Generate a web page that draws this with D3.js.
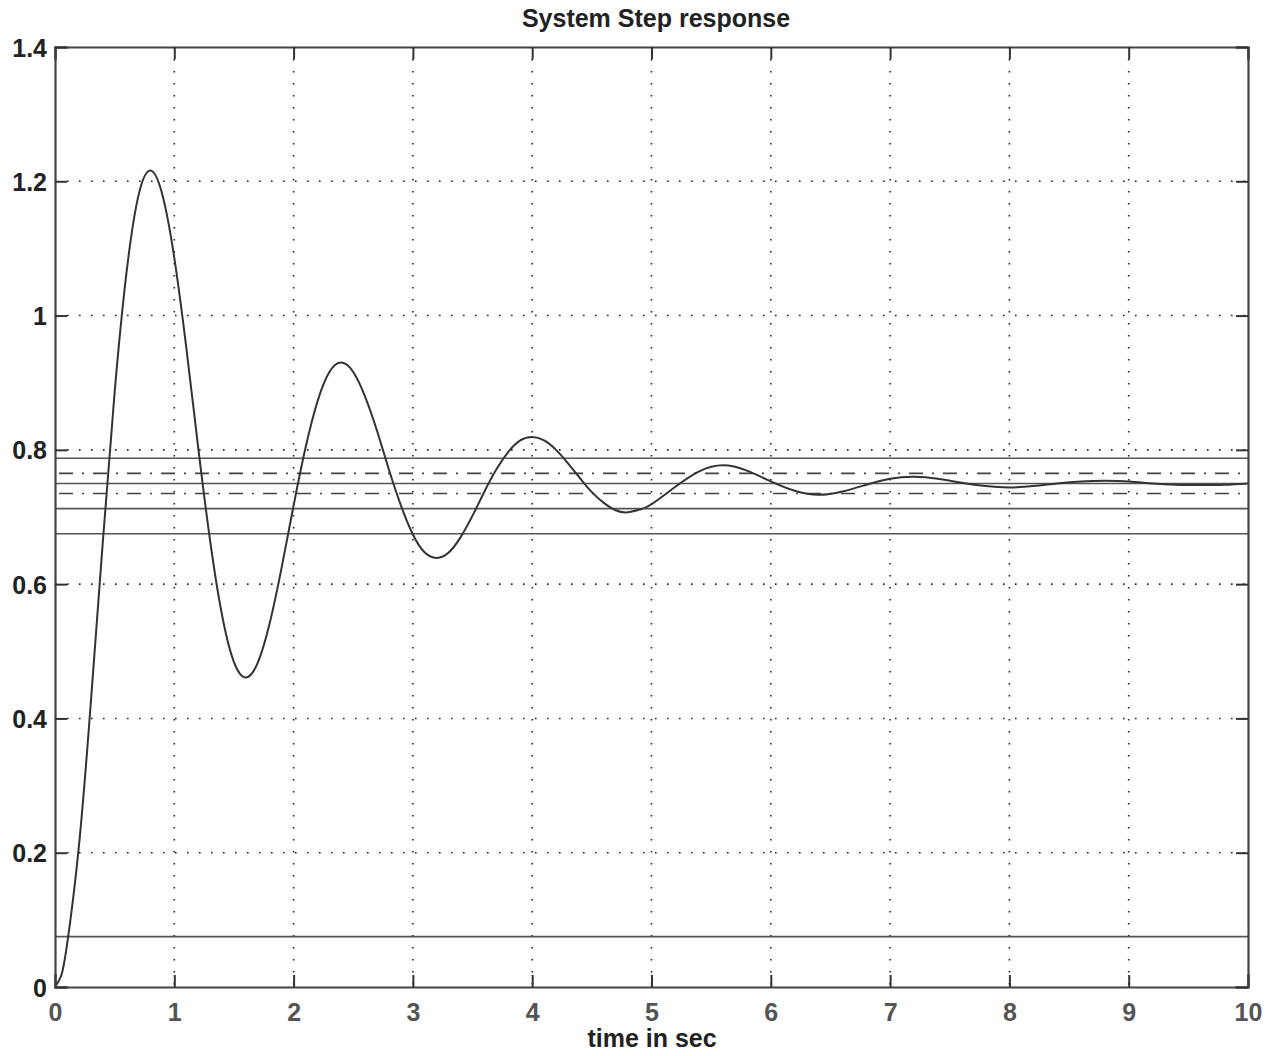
<!DOCTYPE html>
<html><head><meta charset="utf-8">
<script src="https://cdn.jsdelivr.net/npm/d3@7"></script>
<style>
html,body{margin:0;padding:0;background:#fff;}
svg{display:block;}
text{font-family:"Liberation Sans",Arial,Helvetica,sans-serif;}
</style></head>
<body>
<svg id="chart" width="1268" height="1056"></svg>
<script>
// ---- data ----
const title = "System Step response";
const xLabel = "time in sec";
const xTicks = [0,1,2,3,4,5,6,7,8,9,10];
const yTicks = [0,0.2,0.4,0.6,0.8,1,1.2,1.4];
const yTickLabels = ["0","0.2","0.4","0.6","0.8","1","1.2","1.4"];
const time = [0,0.05,0.1,0.2,0.3,0.4,0.5,0.6,0.7,0.8,0.9,1.0,1.1,1.2,1.3,1.4,1.5,1.6,1.7,1.8,1.9,
  2.0,2.1,2.2,2.3,2.4,2.5,2.6,2.7,2.8,2.9,3.0,3.1,3.2,3.3,3.4,3.5,3.6,3.7,3.8,3.9,
  4.0,4.1,4.2,4.3,4.4,4.5,4.6,4.7,4.8,4.9,5.0,5.2,5.4,5.6,5.8,6.0,6.2,6.4,6.6,6.8,
  7.0,7.2,7.4,7.6,7.8,8.0,8.2,8.4,8.6,8.8,9.0,9.2,9.4,9.6,9.8,10.0];
const response = [0,0.016,0.062,0.209,0.423,0.661,0.886,1.065,1.179,1.216,1.180,1.086,0.953,0.804,0.665,0.554,0.484,0.461,0.483,0.542,0.625,
  0.717,0.803,0.872,0.916,0.930,0.916,0.879,0.828,0.770,0.717,0.674,0.647,0.639,0.647,0.670,0.702,0.738,0.771,0.797,0.814,
  0.819,0.814,0.800,0.780,0.758,0.737,0.721,0.710,0.707,0.711,0.719,0.745,0.768,0.777,0.769,0.753,0.739,0.733,0.738,0.748,
  0.757,0.760,0.757,0.751,0.746,0.744,0.746,0.750,0.753,0.754,0.753,0.750,0.748,0.7475,0.748,0.750];
const solidLevels = [0.7875,0.75,0.7125,0.675,0.075];   // +5%, final, -5%, -10%, 10%
const dashDotLevels = [0.765,0.735];                      // +-2% band

// ---- layout ----
const L=55, R=1248, T=47, B=987;
const svg = d3.select("#chart");
const x = d3.scaleLinear().domain([0,10]).range([L,R]);
const y = d3.scaleLinear().domain([0,1.4]).range([B,T]);

// grid (dotted)
const grid = svg.append("g");
grid.selectAll("line.gx").data(xTicks.slice(1,-1)).join("line")
  .attr("x1",d=>x(d)).attr("x2",d=>x(d)).attr("y1",T).attr("y2",B)
  .attr("stroke","#222").attr("stroke-width",1.6).attr("stroke-dasharray","1.6,10.4");
grid.selectAll("line.gy").data(yTicks.slice(1,-1)).join("line")
  .attr("x1",L).attr("x2",R).attr("y1",d=>y(d)).attr("y2",d=>y(d))
  .attr("stroke","#222").attr("stroke-width",1.6).attr("stroke-dasharray","1.6,10.4");

// reference levels
svg.append("g").selectAll("line").data(solidLevels).join("line")
  .attr("x1",L).attr("x2",R).attr("y1",d=>y(d)).attr("y2",d=>y(d))
  .attr("stroke","#555").attr("stroke-width",1.6);
svg.append("g").selectAll("line").data(dashDotLevels).join("line")
  .attr("x1",L).attr("x2",R).attr("y1",d=>y(d)).attr("y2",d=>y(d))
  .attr("stroke","#444").attr("stroke-width",1.6).attr("stroke-dasharray","14,9,2,9")
  .attr("stroke-dashoffset",-4);

// response curve
const pts = time.map((t,i)=>[t,response[i]]);
svg.append("path").datum(pts)
  .attr("d", d3.line().x(d=>x(d[0])).y(d=>y(d[1])).curve(d3.curveNatural))
  .attr("fill","none").attr("stroke","#333").attr("stroke-width",2);

// axes (ticks inward, on all four sides)
const tl = 12;
const axB = svg.append("g").attr("transform",`translate(0,${B})`)
  .call(d3.axisBottom(x).tickValues(xTicks).tickSize(-tl).tickPadding(16).tickFormat(d3.format("d")));
const axT = svg.append("g").attr("transform",`translate(0,${T})`)
  .call(d3.axisTop(x).tickValues(xTicks).tickSize(-tl).tickFormat(""));
const axL = svg.append("g").attr("transform",`translate(${L},0)`)
  .call(d3.axisLeft(y).tickValues(yTicks).tickSize(-tl).tickPadding(8).tickFormat((d,i)=>yTickLabels[i]));
const axR = svg.append("g").attr("transform",`translate(${R},0)`)
  .call(d3.axisRight(y).tickValues(yTicks).tickSize(-tl).tickFormat(""));
[axB,axT,axL,axR].forEach(a=>{
  a.select(".domain").attr("stroke","#444").attr("stroke-width",2.2);
  a.selectAll(".tick line").attr("stroke","#333").attr("stroke-width",2);
});
axB.selectAll(".tick text").attr("font-size",25).attr("font-weight","bold").attr("fill","#555")
  .attr("dy","0.71em");
axL.selectAll(".tick text").attr("font-size",25).attr("font-weight","bold").attr("fill","#222")
  .attr("dy","0.36em");
svg.selectAll(".domain").attr("stroke-linecap","square");

// title and label
svg.append("text").attr("x",656).attr("y",27).attr("text-anchor","middle")
  .attr("font-size",25).attr("font-weight","bold").attr("fill","#222").text(title);
svg.append("text").attr("x",652).attr("y",1047).attr("text-anchor","middle")
  .attr("font-size",25).attr("font-weight","bold").attr("fill","#222").text(xLabel);
</script>
</body></html>
